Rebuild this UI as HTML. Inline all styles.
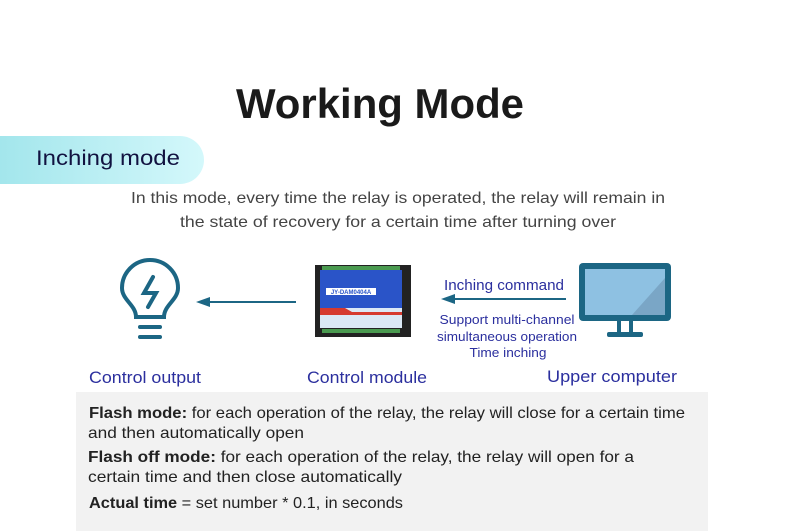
<!DOCTYPE html>
<html><head><meta charset="utf-8"><style>
html,body{margin:0;padding:0;background:#fff;}
svg{display:block}
text{font-family:"Liberation Sans",sans-serif;}
</style></head><body>
<svg width="790" height="531" viewBox="0 0 790 531" xmlns="http://www.w3.org/2000/svg">
<defs>
<linearGradient id="g" x1="0" x2="1"><stop offset="0" stop-color="#a3e6ec"/><stop offset="1" stop-color="#d4f8fb"/></linearGradient>
</defs>
<rect width="790" height="531" fill="#fff"/>
<text x="380" y="118" text-anchor="middle" font-size="42" font-weight="bold" fill="#1a1a1a" textLength="288" lengthAdjust="spacingAndGlyphs">Working Mode</text>
<path d="M0 136 H180 A24 24 0 0 1 180 184 H0 Z" fill="url(#g)"/>
<text x="36" y="165" font-size="21" fill="#111240" textLength="144" lengthAdjust="spacingAndGlyphs">Inching mode</text>
<text x="398" y="203" text-anchor="middle" font-size="16" fill="#444" textLength="534" lengthAdjust="spacingAndGlyphs">In this mode, every time the relay is operated, the relay will remain in</text>
<text x="398" y="227" text-anchor="middle" font-size="16" fill="#444" textLength="436" lengthAdjust="spacingAndGlyphs">the state of recovery for a certain time after turning over</text>
<!-- bulb -->
<g fill="none" stroke="#1c6684" stroke-width="4" stroke-linecap="round">
<path d="M136 317 C136 305 122 300 122 288 A28 28 0 1 1 178 288 C178 300 164 305 164 317 Z"/>
<path d="M153 277 L144 293 L156 293 L148 307"/>
<line x1="140" y1="327" x2="160" y2="327"/>
<line x1="140" y1="337" x2="160" y2="337"/>
</g>
<!-- arrows -->
<line x1="205" y1="302" x2="296" y2="302" stroke="#1c6684" stroke-width="2"/>
<path d="M196 302 L210 297 L210 307 Z" fill="#1c6684"/>
<line x1="450" y1="299" x2="566" y2="299" stroke="#1c6684" stroke-width="2"/>
<path d="M441 299 L455 294 L455 304 Z" fill="#1c6684"/>
<!-- module -->
<rect x="315" y="265" width="96" height="72" fill="#222"/>
<rect x="320" y="270" width="82" height="38" fill="#2a54c8"/>
<rect x="320" y="308" width="82" height="20" fill="#dbe8f5"/>
<path d="M320 308 L345 308 L352 312 L402 312 L402 315 L320 315 Z" fill="#d63a2f"/>
<rect x="326" y="288" width="50" height="7" fill="#fff"/>
<text x="351" y="294" text-anchor="middle" font-size="6" font-weight="bold" fill="#2a54c8">JY-DAM0404A</text>
<rect x="322" y="266" width="78" height="4" fill="#4a9a50"/>
<rect x="322" y="329" width="78" height="4" fill="#4a9a50"/>
<!-- monitor -->
<rect x="579" y="263" width="92" height="58" rx="4" fill="#1c6684"/>
<rect x="585" y="269" width="80" height="46" fill="#8ec1e2"/>
<path d="M632 315 L665 278 L665 315 Z" fill="#7aa6c6"/>
<rect x="617" y="321" width="4" height="12" fill="#1c6684"/>
<rect x="629" y="321" width="4" height="12" fill="#1c6684"/>
<rect x="607" y="332" width="36" height="5" rx="2" fill="#1c6684"/>
<text x="504" y="290" text-anchor="middle" font-size="15" fill="#2b2f9e" textLength="120" lengthAdjust="spacingAndGlyphs">Inching command</text>
<text x="507" y="324" text-anchor="middle" font-size="13" fill="#2b2f9e" textLength="135" lengthAdjust="spacingAndGlyphs">Support multi-channel</text>
<text x="507" y="341" text-anchor="middle" font-size="13" fill="#2b2f9e" textLength="140" lengthAdjust="spacingAndGlyphs">simultaneous operation</text>
<text x="508" y="357" text-anchor="middle" font-size="13" fill="#2b2f9e" textLength="77" lengthAdjust="spacingAndGlyphs">Time inching</text>
<text x="145" y="383" text-anchor="middle" font-size="17" fill="#2b2f9e" textLength="112" lengthAdjust="spacingAndGlyphs">Control output</text>
<text x="367" y="383" text-anchor="middle" font-size="17" fill="#2b2f9e" textLength="120" lengthAdjust="spacingAndGlyphs">Control module</text>
<text x="612" y="382" text-anchor="middle" font-size="17" fill="#2b2f9e" textLength="130" lengthAdjust="spacingAndGlyphs">Upper computer</text>
<rect x="76" y="392" width="632" height="139" fill="#f2f2f2"/>
<g font-size="16" fill="#222">
<text x="89" y="418" textLength="596" lengthAdjust="spacingAndGlyphs"><tspan font-weight="bold">Flash mode:</tspan> for each operation of the relay, the relay will close for a certain time</text>
<text x="88" y="438" textLength="216" lengthAdjust="spacingAndGlyphs">and then automatically open</text>
<text x="88" y="462" textLength="546" lengthAdjust="spacingAndGlyphs"><tspan font-weight="bold">Flash off mode:</tspan> for each operation of the relay, the relay will open for a</text>
<text x="88" y="482" textLength="314" lengthAdjust="spacingAndGlyphs">certain time and then close automatically</text>
<text x="89" y="508" textLength="314" lengthAdjust="spacingAndGlyphs"><tspan font-weight="bold">Actual time</tspan> = set number * 0.1, in seconds</text>
</g>
</svg>
</body></html>
